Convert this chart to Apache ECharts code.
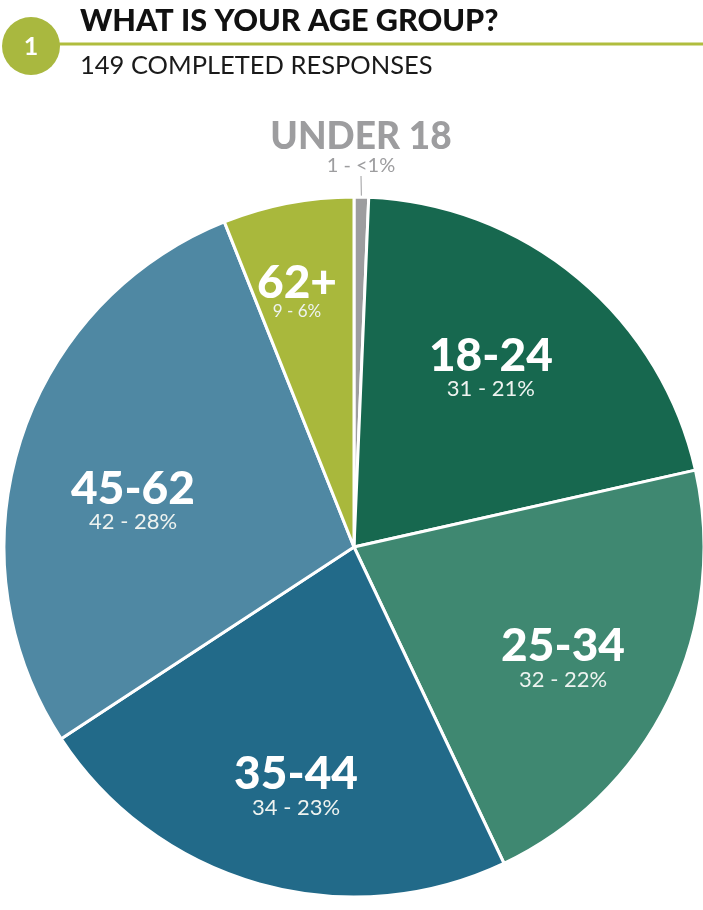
<!DOCTYPE html>
<html>
<head>
<meta charset="utf-8">
<style>
  html, body { margin: 0; padding: 0; background: #ffffff; }
  #chart { width: 703px; height: 910px; }
</style>
<script src="https://cdn.jsdelivr.net/npm/echarts@6/dist/echarts.min.js"></script>
</head>
<body>
<div id="chart"></div>
<script>
// Survey question 1: age groups of respondents
const ageGroups = ['UNDER 18', '18-24', '25-34', '35-44', '45-62', '62+'];
const responseCounts = [1, 31, 32, 34, 42, 9];
const percentLabels = ['<1%', '21%', '22%', '23%', '28%', '6%'];
const totalResponses = 149;

const sliceColors = ['#9d9d9f', '#17684f', '#3f8871', '#226a89', '#4f88a3', '#a9b83c'];
// label placement: fraction of the pie radius, and turn (degrees) from the slice's mid-angle
const labelRadius = [1.12, 0.643, 0.677, 0.704, 0.645, 0.742];
const labelTurn = [0, 2.4, -2.1, 2.1, 5.7, 1.8];

const FONT = 'Lato, "Open Sans", sans-serif';
const CX = 354, CY = 547, R = 350;

const total = responseCounts.reduce((a, b) => a + b, 0);
function midAngle(i) {
  let before = 0;
  for (let k = 0; k < i; k++) before += responseCounts[k];
  const frac = (before + responseCounts[i] / 2) / total;
  return (90 - frac * 360 + labelTurn[i]) * Math.PI / 180;
}

const chart = echarts.init(document.getElementById('chart'), null, { renderer: 'canvas' });

const pieData = ageGroups.map((name, i) => {
  const item = {
    name: name,
    value: responseCounts[i],
    itemStyle: { color: sliceColors[i] }
  };
  const text = '{n|{b}}\n{v|' + responseCounts[i] + ' - ' + percentLabels[i] + '}';
  if (i === 0) {
    item.label = {
      position: 'outside',
      formatter: text,
      rich: {
        n: { fontFamily: FONT, fontWeight: 900, fontSize: 37, color: '#9d9d9f', lineHeight: 36, align: 'center' },
        v: { fontFamily: FONT, fontWeight: 400, fontSize: 20, color: '#9d9d9f', lineHeight: 22, align: 'center' }
      }
    };
    item.labelLine = { show: true, length: 8, length2: 0, lineStyle: { color: '#9d9d9f', width: 1 } };
  } else {
    const small = i === 5;
    item.label = {
      position: 'inside',
      formatter: text,
      rich: {
        n: { fontFamily: FONT, fontWeight: 900, fontSize: 46, color: '#ffffff', lineHeight: small ? 36 : 42, align: 'center' },
        v: { fontFamily: FONT, fontWeight: 400, fontSize: small ? 17 : 22, color: '#eef3f0', lineHeight: small ? 20 : 24, align: 'center' }
      }
    };
  }
  return item;
});

chart.setOption({
  backgroundColor: '#ffffff',
  animation: false,
  graphic: [
    { type: 'line', shape: { x1: 50, y1: 44, x2: 703, y2: 44 }, style: { stroke: '#b0bd3e', lineWidth: 3 } },
    { type: 'circle', shape: { cx: 31, cy: 46, r: 29 }, style: { fill: '#a9b83f' } },
    { type: 'text', x: 31, y: 47, style: { text: '1', fill: '#ffffff', font: '700 25px ' + FONT, textAlign: 'center', textVerticalAlign: 'middle' } },
    { type: 'text', x: 80, y: 21, style: { text: 'WHAT IS YOUR AGE GROUP?', fill: '#111111', font: '900 30.6px ' + FONT, textAlign: 'left', textVerticalAlign: 'middle' } },
    { type: 'text', x: 80, y: 66, style: { text: totalResponses + ' COMPLETED RESPONSES', fill: '#1a1a1a', font: '400 25.5px ' + FONT, textAlign: 'left', textVerticalAlign: 'middle' } }
  ],
  series: [{
    type: 'pie',
    center: [CX, CY],
    radius: [0, R],
    startAngle: 90,
    clockwise: true,
    avoidLabelOverlap: false,
    itemStyle: { borderColor: '#ffffff', borderWidth: 3 },
    label: { show: true },
    labelLayout: function (params) {
      const i = params.dataIndex;
      const a = midAngle(i);
      let x = CX + Math.cos(a) * R * labelRadius[i];
      let y = CY - Math.sin(a) * R * labelRadius[i];
      if (i === 0) { x = CX + 7; y = 148; }
      return { x: x, y: y, align: 'center', verticalAlign: 'middle' };
    },
    data: pieData
  }]
});
</script>
</body>
</html>
